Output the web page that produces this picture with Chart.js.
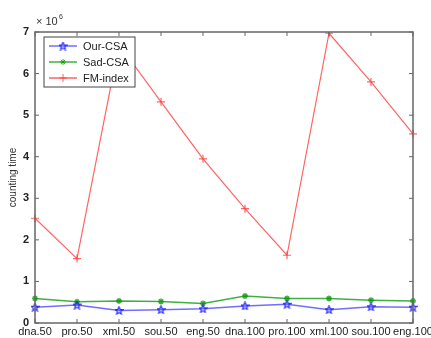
<!DOCTYPE html>
<html>
<head>
<meta charset="utf-8">
<script src="https://cdn.jsdelivr.net/npm/chart.js@4.4.1/dist/chart.umd.min.js"></script>
<style>
  html, body { margin: 0; padding: 0; background: #fff; }
  #wrap { width: 431px; height: 338px; position: relative; }
</style>
</head>
<body>
<div id="wrap"><canvas id="chart"></canvas></div>
<script>
var categories = ['dna.50', 'pro.50', 'xml.50', 'sou.50', 'eng.50', 'dna.100', 'pro.100', 'xml.100', 'sou.100', 'eng.100'];
// values in units of 10^6
var ourCsa  = [0.38, 0.43, 0.30, 0.32, 0.34, 0.41, 0.45, 0.32, 0.39, 0.38];
var sadCsa  = [0.59, 0.51, 0.53, 0.52, 0.47, 0.65, 0.59, 0.59, 0.55, 0.53];
var fmIndex = [2.52, 1.55, 6.70, 5.32, 3.95, 2.75, 1.63, 6.97, 5.80, 4.55];
var yTicks  = [0, 1, 2, 3, 4, 5, 6, 7];

var FONT = 'Arial, "Liberation Sans", sans-serif';

// small pentagram for the Our-CSA markers
function makeStar(color) {
	var c = document.createElement('canvas');
	c.width = 9; c.height = 9;
	var g = c.getContext('2d');
	g.beginPath();
	for (var i = 0; i < 10; i++) {
		var r = i % 2 === 0 ? 4 : 1.8;
		var a = -Math.PI / 2 + i * Math.PI / 5;
		var px = 4.5 + r * Math.cos(a), py = 4.8 + r * Math.sin(a);
		if (i === 0) g.moveTo(px, py); else g.lineTo(px, py);
	}
	g.closePath();
	g.strokeStyle = color;
	g.lineWidth = 1.2;
	g.stroke();
	return c;
}
var blueStar = makeStar('rgba(30,30,255,0.95)');

// matlab style box with inward ticks, exponent label and legend
var matlabBox = {
	id: 'matlabBox',
	afterDraw: function(chart) {
		var ctx = chart.ctx, a = chart.chartArea;
		var x = chart.scales.x, y = chart.scales.y;
		ctx.save();
		ctx.strokeStyle = '#666';
		ctx.lineWidth = 1.5;
		ctx.strokeRect(a.left, a.top, a.right - a.left, a.bottom - a.top);
		ctx.lineWidth = 1;
		ctx.beginPath();
		x.ticks.forEach(function(t, i) {
			var px = x.getPixelForTick(i);
			ctx.moveTo(px, a.bottom); ctx.lineTo(px, a.bottom - 4);
			ctx.moveTo(px, a.top); ctx.lineTo(px, a.top + 4);
		});
		y.ticks.forEach(function(t, i) {
			var py = y.getPixelForTick(i);
			ctx.moveTo(a.left, py); ctx.lineTo(a.left + 4, py);
			ctx.moveTo(a.right, py); ctx.lineTo(a.right - 4, py);
		});
		ctx.stroke();

		// exponent
		ctx.fillStyle = '#333';
		ctx.font = '11px ' + FONT;
		ctx.textBaseline = 'alphabetic';
		ctx.fillText('\u00d7 10', a.left + 1, a.top - 7);
		ctx.font = '7px ' + FONT;
		ctx.fillText('6', a.left + 24, a.top - 13);

		// legend
		var lx = a.left + 9, ly = a.top + 5, lw = 91, lh = 50;
		ctx.fillStyle = '#fff';
		ctx.fillRect(lx, ly, lw, lh);
		ctx.strokeStyle = '#444';
		ctx.lineWidth = 1;
		ctx.strokeRect(lx, ly, lw, lh);
		chart.data.datasets.forEach(function(ds, i) {
			var rowY = ly + 9 + i * 16;
			ctx.strokeStyle = ds.borderColor;
			ctx.fillStyle = ds.backgroundColor;
			ctx.lineWidth = 1.5;
			ctx.beginPath();
			ctx.moveTo(lx + 5, rowY); ctx.lineTo(lx + 33, rowY);
			ctx.stroke();
			ctx.lineWidth = 1;
			Chart.helpers.drawPoint(ctx, {
				pointStyle: ds.pointStyle, radius: ds.pointRadius, rotation: 0, borderWidth: 1
			}, lx + 19, rowY);
			ctx.fillStyle = '#222';
			ctx.font = '11px ' + FONT;
			ctx.textBaseline = 'middle';
			ctx.fillText(ds.label, lx + 39, rowY + 1);
		});
		ctx.restore();
	}
};

new Chart(document.getElementById('chart'), {
	type: 'line',
	data: {
		labels: categories,
		datasets: [
			{
				label: 'Our-CSA',
				data: ourCsa,
				borderColor: 'rgba(50,50,255,0.7)',
				backgroundColor: 'rgba(50,50,255,0.7)',
				borderWidth: 1.5,
				pointStyle: blueStar,
				pointRadius: 4
			},
			{
				label: 'Sad-CSA',
				data: sadCsa,
				borderColor: 'rgba(0,150,0,0.75)',
				backgroundColor: 'rgba(0,150,0,0.75)',
				borderWidth: 1.5,
				pointStyle: 'star',
				pointRadius: 3
			},
			{
				label: 'FM-index',
				data: fmIndex,
				borderColor: 'rgba(255,60,60,0.8)',
				backgroundColor: 'rgba(255,60,60,0.8)',
				borderWidth: 1.2,
				pointStyle: 'cross',
				pointRadius: 4
			}
		]
	},
	options: {
		responsive: true,
		maintainAspectRatio: false,
		animation: false,
		layout: { padding: { top: 32, right: 18, left: 0, bottom: 0 } },
		plugins: {
			legend: { display: false },
			tooltip: { enabled: false }
		},
		elements: { line: { tension: 0 }, point: { borderWidth: 1 } },
		scales: {
			x: {
				type: 'category',
				offset: false,
				grid: { display: false, drawTicks: false },
				border: { display: false },
				afterFit: function(s) {
					s.height = 15;
					// let the last label run off the edge like the original
					s.paddingRight = 0;
					s.paddingLeft = 0;
				},
				ticks: {
					autoSkip: false,
					maxRotation: 0,
					padding: 2,
					color: '#222',
					font: { family: FONT, size: 11 }
				}
			},
			y: {
				min: 0,
				max: 7,
				afterBuildTicks: function(s) {
					s.ticks = yTicks.map(function(v) { return { value: v }; });
				},
				afterFit: function(s) { s.width = 35; },
				grid: { display: false, drawTicks: false },
				border: { display: false },
				title: {
					display: true,
					text: 'counting time',
					color: '#333',
					padding: { top: 7, bottom: 0 },
					font: { family: FONT, size: 10 }
				},
				ticks: {
					padding: 6,
					color: '#222',
					font: { family: FONT, size: 11, weight: 'bold' }
				}
			}
		}
	},
	plugins: [matlabBox]
});
</script>
</body>
</html>
